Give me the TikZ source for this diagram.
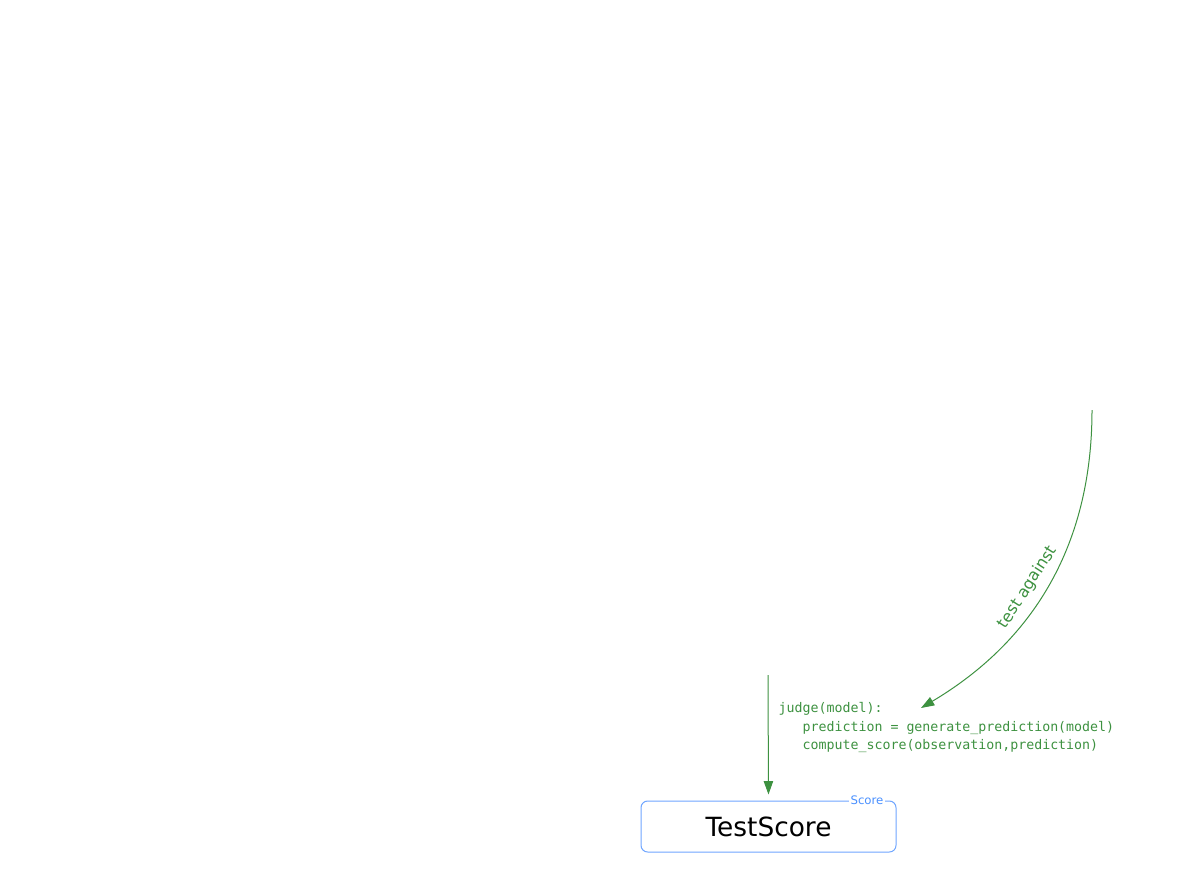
\documentclass[tikz,border=0pt]{standalone}
\usepackage{fontspec}
\setmainfont{DejaVu Sans}
\setmonofont{DejaVu Sans Mono}
\usepackage{xcolor}
\usetikzlibrary{arrows.meta}

\definecolor{edgegreen}{RGB}{61,145,64}
\definecolor{boxblue}{RGB}{110,165,255}
\definecolor{tagblue}{RGB}{75,145,255}

\begin{document}
\begin{tikzpicture}[
        x=0.75pt, y=-0.75pt,
        score/.style={draw=boxblue, line width=0.75pt, rounded corners=5pt, minimum width=191.25pt, minimum height=38.25pt, font=\fontsize{19.8}{23}\selectfont},
        tag/.style={fill=white, inner sep=1.5pt, text=tagblue, font=\fontsize{8.8}{10}\selectfont},
        arrow/.style={-{Stealth[length=10pt, width=7pt, inset=0pt]}, edgegreen, line width=0.75pt},
        code/.style={text=edgegreen, align=left, font=\ttfamily\fontsize{9.95}{13.9}\selectfont}
    ]

    % margins of the page
    \useasboundingbox (0,0) rectangle (1203,872);

    % loose ends of the two connectors
    \coordinate (obs) at (1092,410);
    \coordinate (judge) at (768,675);
    \coordinate (hit) at (921,708);

    % Score block
    \node[score] (testscore) at (768.5,826.5) {TestScore};
    \node[tag] (scoretag) at (867,800.5) {Score};

    % Connectors
    \draw[arrow] (obs) .. controls (1092,570) and (1010,655) .. (hit)
        node[pos=0.49, sloped, above=3pt, text=edgegreen, font=\fontsize{12}{14}\selectfont] {test against};
    \draw[arrow, shorten >=4.5pt] (judge) -- (testscore.north)
        node[pos=0.42, anchor=west, inner sep=0pt, xshift=7.5pt, code]
        {judge(model):\\
         \ \ \ prediction = generate\_prediction(model)\\
         \ \ \ compute\_score(observation,prediction)};

\end{tikzpicture}
\end{document}
